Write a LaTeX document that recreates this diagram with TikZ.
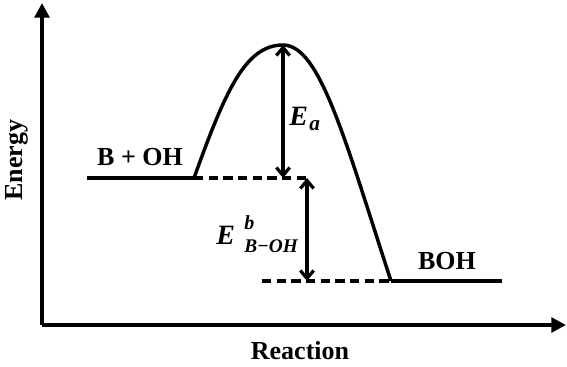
\documentclass[tikz,border=0pt]{standalone}
\usepackage{fontspec}
\setmainfont{Liberation Serif}
\usetikzlibrary{arrows.meta}
\begin{document}
\begin{tikzpicture}[x=0.75pt,y=-0.75pt,
  axis/.style={line width=3pt,-{Triangle[length=11pt,width=11pt]}},
  level/.style={line width=3.5pt},
  guide/.style={line width=2.4pt,dash pattern=on 7pt off 4pt},
  curve/.style={line width=2.6pt},
  dim/.style={line width=2.4pt,{Straight Barb[length=6pt,width=10pt]}-{Straight Barb[length=6pt,width=10pt]}},
  lbl/.style={font=\fontsize{19.5pt}{22pt}\selectfont\bfseries},
  mathlbl/.style={font=\fontsize{21pt}{24pt}\selectfont\bfseries\itshape,anchor=west,inner sep=0pt}]
\useasboundingbox (0,0) rectangle (567,367);
% axes
\coordinate (O) at (42,325);
\coordinate (ytop) at (42,3);
\coordinate (xend) at (566,325);
\draw[axis] (O) -- (ytop);
\draw[axis] (O) -- (xend);
% levels
\coordinate (r1) at (87,178);
\coordinate (r2) at (194,178);
\coordinate (rd) at (310,178);
\coordinate (peak) at (283,45);
\coordinate (pa) at (283,178);
\coordinate (p1) at (391,281);
\coordinate (p2) at (502,281);
\coordinate (pd) at (262,281);
\coordinate (bt) at (307,178);
\coordinate (bb) at (307,281);
\draw[level] (r1) -- (r2);
\draw[level] (p1) -- (p2);
\draw[guide] (r2) -- (rd);
\draw[guide] (pd) -- (p1);
\draw[curve] (r2) .. controls (225,92) and (245,45) .. (peak)
  .. controls (320,45) and (345,140) .. (p1);
\draw[dim] (peak) -- (pa);
\draw[dim] (bt) -- (bb);
% labels
\node[lbl] (lr) at (140,157) {B + OH};
\node[lbl] (lp) at (447,261) {BOH};
\node[lbl] (lx) at (300,351) {Reaction};
\node[lbl,rotate=90] (ly) at (17,160) {Energy};
\node[mathlbl] (ea) at (289,119)
  {E\kern1pt\raisebox{-0.4ex}{\fontsize{16pt}{18pt}\selectfont a}};
\node[mathlbl] (eb) at (216,234)
  {E\kern7pt\rlap{\raisebox{1.15ex}{\fontsize{15pt}{18pt}\selectfont b}}\raisebox{-0.6ex}{\fontsize{14.5pt}{18pt}\selectfont B−OH}};
\end{tikzpicture}
\end{document}
